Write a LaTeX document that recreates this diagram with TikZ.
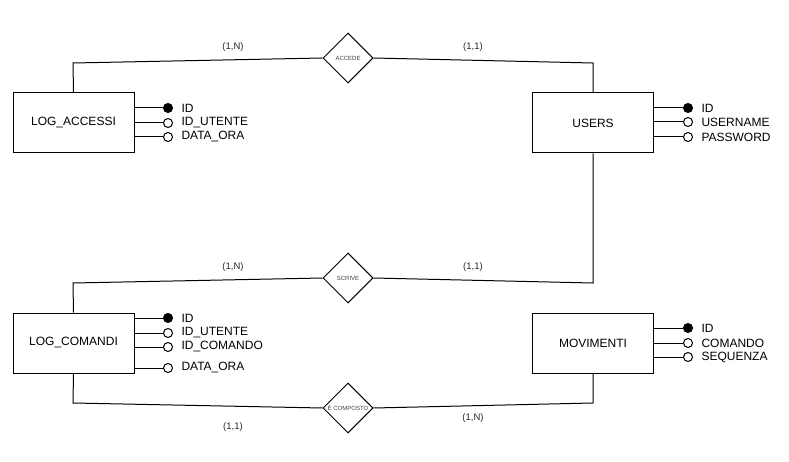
\documentclass[tikz,border=0pt]{standalone}
\usepackage{fontspec}
\setmainfont{Liberation Sans}
\usetikzlibrary{shapes.geometric}
\tikzset{
  entity/.style = {draw, minimum width=121pt, minimum height=60pt, inner sep=0pt,
                   font=\fontsize{12}{14}\selectfont},
  relation/.style = {draw, diamond, minimum size=50pt, inner sep=0pt,
                     font=\fontsize{6}{7}\selectfont, text=black!75},
  keyattr/.style = {draw, circle, fill=black, minimum size=9pt, inner sep=0pt},
  attr/.style = {draw, circle, fill=white, minimum size=9pt, inner sep=0pt},
  attrlabel/.style = {anchor=west, inner sep=0pt, font=\fontsize{12}{14}\selectfont},
  card/.style = {font=\fontsize{9.5}{11}\selectfont, text=black!85}
}

\begin{document}
\begin{tikzpicture}[x=1pt,y=-1pt,line width=1pt]
  \useasboundingbox (0,0) rectangle (789,462);
  % entities
  \node[entity] (logacc) at (73.5,123) {LOG\_ACCESSI};
  \node[entity] (users) at (593,123) {USERS};
  \node[entity] (logcom) at (73.5,343) {LOG\_COMANDI};
  \node[entity] (movim) at (593,343) {MOVIMENTI};
  % relations
  \node[relation] (accede) at (348,58) {ACCEDE};
  \node[relation] (scrive) at (348,278) {SCRIVE};
  \node[relation] (ecomp) at (348,408) {È COMPOSTO};
  % attributes
  \foreach \i/\y/\kind/\txt in {1/108/keyattr/ID, 2/123/attr/ID\_UTENTE, 3/137/attr/DATA\_ORA} {
    \node[\kind] (logacc\i) at (168,\y) {};
    \draw (logacc.east |- logacc\i) -- (logacc\i.west);
    \node[attrlabel] (logacc\i txt) at ([xshift=13pt]logacc\i.center) {\txt};
  }
  \foreach \i/\y/\kind/\txt in {1/108/keyattr/ID, 2/122/attr/USERNAME, 3/137/attr/PASSWORD} {
    \node[\kind] (users\i) at (688,\y) {};
    \draw (users.east |- users\i) -- (users\i.west);
    \node[attrlabel] (users\i txt) at ([xshift=13pt]users\i.center) {\txt};
  }
  \foreach \i/\y/\kind/\txt in {1/318/keyattr/ID, 2/333/attr/ID\_UTENTE, 3/347/attr/ID\_COMANDO, 4/368/attr/DATA\_ORA} {
    \node[\kind] (logcom\i) at (168,\y) {};
    \draw (logcom.east |- logcom\i) -- (logcom\i.west);
    \node[attrlabel] (logcom\i txt) at ([xshift=13pt]logcom\i.center) {\txt};
  }
  \foreach \i/\y/\kind/\txt in {1/328/keyattr/ID, 2/343/attr/COMANDO, 3/357/attr/SEQUENZA} {
    \node[\kind] (movim\i) at (688,\y) {};
    \draw (movim.east |- movim\i) -- (movim\i.west);
    \node[attrlabel] (movim\i txt) at ([xshift=13pt]movim\i.center) {\txt};
  }
  % links
  \coordinate (bendA) at (73,63);
  \coordinate (bendB) at (593,63);
  \coordinate (bendC) at (73,283);
  \coordinate (bendD) at (593,283);
  \coordinate (bendE) at (73,403);
  \coordinate (bendF) at (593,403);
  \draw (logacc.north) -- (bendA) -- (accede.west);
  \draw (accede.east) -- (bendB) -- (users.north);
  \draw (logcom.north) -- (bendC) -- (scrive.west);
  \draw (scrive.east) -- (bendD) -- (users.south);
  \draw (logcom.south) -- (bendE) -- (ecomp.west);
  \draw (ecomp.east) -- (bendF) -- (movim.south);
  % cardinalities
  \node[card] (cardA) at (233,47) {(1,N)};
  \node[card] (cardB) at (473,47) {(1,1)};
  \node[card] (cardC) at (233,267) {(1,N)};
  \node[card] (cardD) at (473,267) {(1,1)};
  \node[card] (cardE) at (233,427) {(1,1)};
  \node[card] (cardF) at (473,418) {(1,N)};
\end{tikzpicture}
\end{document}
